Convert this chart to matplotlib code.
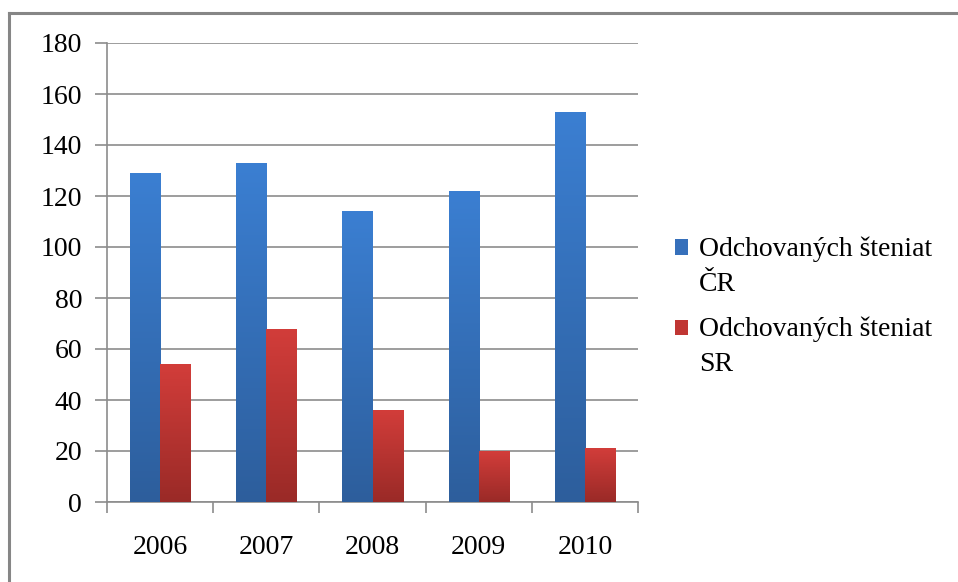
import numpy as np
import matplotlib
matplotlib.use("Agg")
import matplotlib.pyplot as plt
from matplotlib.lines import Line2D
from matplotlib.patches import Rectangle
from matplotlib.legend_handler import HandlerPatch
from matplotlib.colors import LinearSegmentedColormap

years = ["2006", "2007", "2008", "2009", "2010"]
cr_values = [129, 133, 114, 122, 153]
sr_values = [54, 68, 36, 20, 21]
series_labels = ["Odchovaných šteniat\nČR", "Odchovaných šteniat\nSR"]
yticks = [0, 20, 40, 60, 80, 100, 120, 140, 160, 180]

plt.rcParams['font.family'] = ['Liberation Serif', 'DejaVu Serif']

W, H = 958, 582
fig = plt.figure(figsize=(W/100, H/100), dpi=100)
ax = fig.add_axes([107/W, 1-502/H, (638-107)/W, (502-43)/H])

x = np.arange(len(years))
bw = 0.283
blue_cmap = LinearSegmentedColormap.from_list("b", ["#2d5e9c", "#3b7fd2"])
red_cmap = LinearSegmentedColormap.from_list("r", ["#9a2a27", "#d23d3a"])

grad = np.linspace(0, 1, 256).reshape(-1, 1)
handles = []
for vals, off, cmap, col, lab in [(cr_values, -bw/2, blue_cmap, "#3670bb", series_labels[0]),
                                   (sr_values, bw/2, red_cmap, "#c03633", series_labels[1])]:
    bars = ax.bar(x + off, vals, width=bw, color="none", edgecolor="none", zorder=3, label=lab)
    for b in bars:
        x0, y0 = b.get_x(), b.get_y()
        w, h = b.get_width(), b.get_height()
        im = ax.imshow(grad, cmap=cmap, aspect="auto", origin="lower",
                       extent=[x0, x0 + w, y0, y0 + h], zorder=3)
        im.set_clip_path(b)
    handles.append(Rectangle((0, 0), 1, 1, facecolor=col, edgecolor="none"))

ax.set_xlim(-0.5, len(years) - 0.5)
ax.set_ylim(0, 180)
ax.set_yticks(yticks)
ax.set_yticklabels([str(v) for v in yticks], fontsize=20)
ax.set_xticks(x)
ax.set_xticklabels(years, fontsize=20)
ax.tick_params(axis='x', length=0, pad=24)
ax.set_xticks(np.arange(-0.5, len(years)), minor=True)
ax.tick_params(axis='x', which='minor', length=8, width=1.2, color="#8c8c8c", direction="out")
ax.tick_params(axis='y', length=9, width=1.2, color="#8c8c8c", direction="out", pad=9)
ax.grid(axis='y', color="#8c8c8c", linewidth=1.2, zorder=1)
ax.set_axisbelow(True)
for s in ["top", "right"]:
    ax.spines[s].set_visible(False)
for s in ["left", "bottom"]:
    ax.spines[s].set_color("#8c8c8c")
    ax.spines[s].set_linewidth(1.2)


def raised_square(legend, orig_handle, xdescent, ydescent, width, height, fontsize):
    return Rectangle((-xdescent, -ydescent + 13.7), width, height)


leg = fig.legend(handles, series_labels, loc="upper left", bbox_to_anchor=(650/W, 1-211/H),
                 frameon=False, fontsize=20, handlelength=0.47, handleheight=0.47,
                 handletextpad=0.4, labelspacing=0.7,
                 handler_map={Rectangle: HandlerPatch(patch_func=raised_square)})
for t in leg.get_texts():
    t.set_linespacing(1.55)

fig.add_artist(Line2D([8.5/W, 1.0], [1-12.5/H, 1-12.5/H], color="#868686", linewidth=2.2,
                      transform=fig.transFigure))
fig.add_artist(Line2D([8.5/W, 8.5/W], [0, 1-12.5/H], color="#868686", linewidth=2.2,
                      transform=fig.transFigure))

fig.savefig("out.png", dpi=100)
